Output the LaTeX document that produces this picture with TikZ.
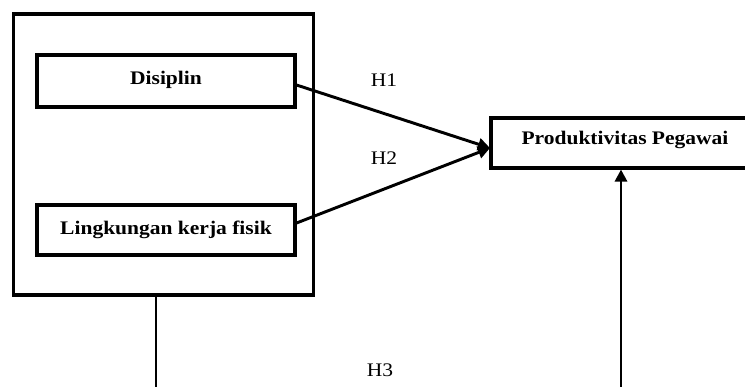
\documentclass[tikz,border=0pt]{standalone}
\usepackage{fontspec}
\setmainfont{Liberation Serif}[FakeStretch=1.12]
\usetikzlibrary{arrows.meta}
\begin{document}
\begin{tikzpicture}[x=0.75pt,y=-0.75pt,
  boxline/.style={draw=black,line width=2.3pt,inner sep=0pt},
  conn/.style={line width=2.2pt,-{Triangle[length=9pt,width=9pt]}},
  lbl/.style={font=\fontsize{14.4pt}{16pt}\selectfont,inner sep=0pt},
  blbl/.style={font=\fontsize{14.4pt}{16pt}\selectfont\bfseries,inner sep=0pt}]
\useasboundingbox (0,0) rectangle (745,386);
\fill[white] (0,0) rectangle (745,386);
% outer frame
\node[boxline,minimum width=225pt,minimum height=210.75pt] (outer) at (163.5,154.5) {};
% inner boxes
\node[boxline,minimum width=193.5pt,minimum height=39pt] (dis) at (166,81) {};
\node[blbl] at (166,79.5) {Disiplin};
\node[boxline,minimum width=193.5pt,minimum height=37.5pt] (ling) at (166,230) {};
\node[blbl] at (166,230) {Lingkungan kerja fisik};
% target box (extends past the right edge)
\node[boxline,minimum width=196.5pt,minimum height=37.5pt] (prod) at (622,143) {};
\node[blbl] at (625,140) {Produktivitas Pegawai};
\coordinate (tip) at (490,148);
\coordinate (d1) at (dis.east |- 0,85);
\coordinate (l1) at (ling.east |- 0,223);
\draw[conn] (d1) -- (tip);
\draw[conn] (l1) -- (tip);
% H3 path
\coordinate (b1) at (156,388);
\coordinate (b2) at (621,388);
\draw[line width=2.2pt] (outer.south -| b1) -- (b1);
\draw[conn] (b2) -- (prod.south -| b2);
% labels
\node[lbl] (h1) at (384,80) {H1};
\node[lbl] (h2) at (384,158) {H2};
\node[lbl] (h3) at (380,370) {H3};
\end{tikzpicture}
\end{document}
